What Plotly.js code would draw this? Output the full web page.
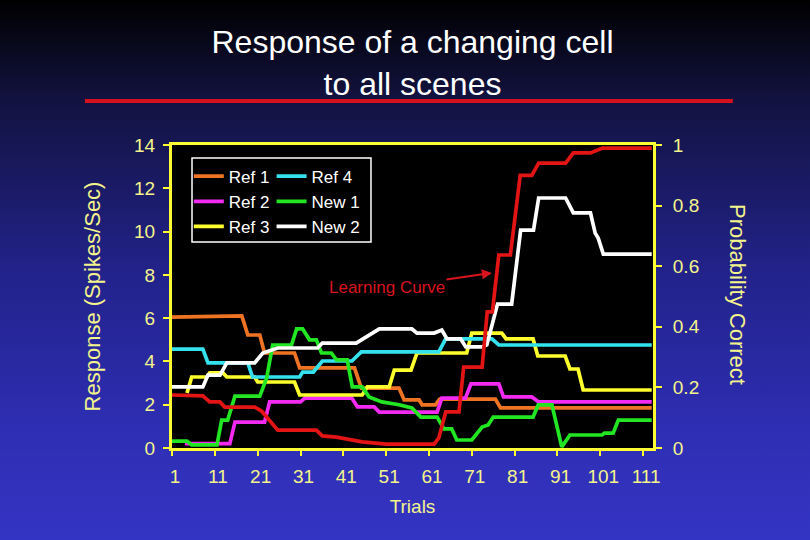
<!DOCTYPE html>
<html>
<head>
<meta charset="utf-8">
<script src="https://cdn.plot.ly/plotly-3.0.1.min.js"></script>
<style>
  html, body { margin: 0; padding: 0; }
  body { width: 810px; height: 540px; overflow: hidden;
         background: linear-gradient(to bottom, #000000 0%, #12123f 18%, #22228a 50%, #2e2eb4 80%, #3434c4 100%); }
  #chart { width: 810px; height: 540px; }
</style>
</head>
<body>
<div id="chart"></div>
<script>
// ---- data ----
const seriesNames = ["Ref 1", "Ref 2", "Ref 3", "Ref 4", "New 1", "New 2"];
const xTickVals = [1, 11, 21, 31, 41, 51, 61, 71, 81, 91, 101, 111];

const ref1X = [1, 17.3, 18.7, 21.5, 22.6, 29.6, 30.8, 43.6, 45.2, 54, 55.2, 58.7, 59.4, 62.5, 63.5, 76.5, 77.7, 113];
const ref1Y = [6.05, 6.1, 5.22, 5.22, 4.39, 4.39, 3.70, 3.70, 2.77, 2.77, 2.22, 2.22, 1.99, 1.99, 2.26, 2.26, 1.85, 1.85];

const ref2X = [4, 14.5, 15.7, 22.6, 23.8, 31, 32, 43, 44.3, 48.2, 49.4, 62.9, 64, 69.5, 70.8, 77.3, 78.4, 85, 86.6, 113];
const ref2Y = [0.2, 0.2, 1.2, 1.2, 2.13, 2.13, 2.3, 2.3, 1.9, 1.9, 1.66, 1.66, 2.3, 2.3, 2.96, 2.96, 2.36, 2.36, 2.13, 2.13];

const ref3X = [4.5, 5.6, 9.1, 9.8, 12.9, 13.8, 20.3, 21, 29.6, 30.8, 45.4, 46.6, 51.7, 52.9, 56.8, 58.2, 69.8, 71, 78, 79, 85.3, 86.4, 92.8, 93.9, 95.8, 97, 113];
const ref3Y = [2.54, 3.28, 3.28, 3.47, 3.47, 3.28, 3.28, 3.05, 3.05, 2.45, 2.45, 2.82, 2.82, 3.6, 3.6, 4.39, 4.39, 5.31, 5.31, 5.04, 5.04, 4.25, 4.25, 3.65, 3.65, 2.68, 2.68];

const ref4X = [1, 8.2, 9.4, 18.7, 19.8, 30.8, 31.5, 34, 36.1, 43, 45.2, 63.3, 64.9, 75.7, 77.3, 113];
const ref4Y = [4.57, 4.57, 3.93, 3.93, 3.28, 3.28, 3.51, 3.51, 4.02, 4.02, 4.44, 4.44, 5.04, 5.04, 4.76, 4.76];

const new1X = [1, 4.5, 5.6, 11.5, 12.6, 14, 15.7, 21.5, 23.1, 24.5, 28.9, 30.1, 31.5, 33.1, 34.7, 35.9, 38.2, 39.4, 41.9, 43.1, 45.4, 47, 50, 54, 57, 59.1, 62.9, 64.5, 66.3, 67.5, 71, 73.4, 74.8, 76, 85.3, 86.5, 89.7, 92, 93.9, 101.4, 102, 104, 105.2, 113];
const new1Y = [0.32, 0.32, 0.14, 0.14, 1.29, 1.29, 2.4, 2.4, 3.23, 4.76, 4.76, 5.5, 5.5, 5.0, 5.0, 4.39, 4.39, 4.07, 4.07, 2.82, 2.82, 2.36, 2.13, 2.0, 1.85, 1.43, 1.43, 0.88, 0.88, 0.37, 0.37, 0.97, 1.06, 1.43, 1.43, 1.99, 1.99, 0.05, 0.6, 0.6, 0.69, 0.69, 1.29, 1.29];

const new2X = [1, 8.2, 9.4, 12.2, 13.8, 20.3, 22.2, 25.7, 35, 36.1, 44, 45.5, 49.4, 57, 58.2, 62.2, 64, 65.2, 68.4, 69.6, 73.3, 74.5, 77, 80.3, 82.4, 85.4, 86.6, 92.9, 94.7, 98.7, 99.8, 100.5, 101.7, 113];
const new2Y = [2.82, 2.82, 3.37, 3.37, 3.93, 3.93, 4.39, 4.62, 4.62, 4.85, 4.85, 5.04, 5.5, 5.5, 5.31, 5.31, 5.45, 5.04, 5.04, 4.67, 4.67, 4.76, 6.65, 6.65, 10.07, 10.07, 11.55, 11.55, 10.86, 10.86, 9.93, 9.7, 8.96, 8.96];

const learnX = [1, 8.2, 9.8, 12.2, 13.3, 20.3, 21.9, 23.8, 25.7, 34.7, 36.1, 39.4, 45.4, 51, 62.2, 63.3, 64.9, 68, 69.1, 73.4, 74.6, 75.8, 77.3, 80, 82.3, 85, 86.6, 92.9, 94.7, 98.7, 101.5, 113];
const learnY = [0.175, 0.172, 0.152, 0.152, 0.135, 0.135, 0.122, 0.092, 0.059, 0.059, 0.04, 0.036, 0.02, 0.013, 0.013, 0.033, 0.119, 0.119, 0.267, 0.267, 0.449, 0.449, 0.637, 0.637, 0.90, 0.90, 0.94, 0.94, 0.974, 0.974, 0.99, 0.99];

// ---- styles ----
const FONT = '"Liberation Sans", Arial, sans-serif';
const AXIS_YELLOW = '#ffff33';
const LABEL_YELLOW = '#f4f48c';
const colors = ['#ee7424', '#f22af2', '#ffff2e', '#34e2ee', '#22e622', '#ffffff'];
const LW = 3.7;

function line(name, x, y, color, legend) {
  return { type: 'scatter', mode: 'lines', name: name, x: x, y: y,
           line: { color: color, width: LW, shape: 'linear' }, legend: legend,
           hoverinfo: 'skip' };
}

const traces = [
  line(seriesNames[0], ref1X, ref1Y, colors[0], 'legend'),
  line(seriesNames[1], ref2X, ref2Y, colors[1], 'legend'),
  line(seriesNames[2], ref3X, ref3Y, colors[2], 'legend'),
  line(seriesNames[3], ref4X, ref4Y, colors[3], 'legend2'),
  line(seriesNames[4], new1X, new1Y, colors[4], 'legend2'),
  line(seriesNames[5], new2X, new2Y, colors[5], 'legend2'),
  { type: 'scatter', mode: 'lines', name: 'Learning Curve', x: learnX, y: learnY,
    yaxis: 'y2', showlegend: false, hoverinfo: 'skip',
    line: { color: '#e21414', width: LW } }
];

const legendCommon = {
  font: { family: FONT, size: 17, color: '#ffffff' },
  bgcolor: 'rgba(0,0,0,0)', borderwidth: 0,
  xref: 'paper', yref: 'paper', xanchor: 'left', yanchor: 'top',
  tracegroupgap: 0, itemwidth: 30
};

const layout = {
  width: 810, height: 540,
  paper_bgcolor: 'rgba(0,0,0,0)',
  plot_bgcolor: '#000000',
  margin: { l: 172, r: 157, t: 145, b: 92, pad: 0 },
  font: { family: FONT, color: LABEL_YELLOW },
  title: {
    text: 'Response of a changing cell<br>to all scenes',
    font: { family: FONT, size: 32, color: '#ffffff' },
    x: 0.5, xref: 'paper', xanchor: 'center',
    y: 1 - 53 / 540, yref: 'container', yanchor: 'middle'
  },
  xaxis: {
    range: [1, 113.3],
    tickmode: 'array', tickvals: xTickVals, ticktext: xTickVals.map(String),
    ticks: 'outside', ticklen: 5, tickwidth: 2, tickcolor: AXIS_YELLOW,
    ticklabelstandoff: 4, ticklabelshift: 3,
    tickfont: { family: FONT, size: 19, color: LABEL_YELLOW },
    showline: true, linecolor: AXIS_YELLOW, linewidth: 3, mirror: true,
    showgrid: false, zeroline: false,
    title: { text: 'Trials', font: { family: FONT, size: 19, color: LABEL_YELLOW }, standoff: 14 }
  },
  yaxis: {
    range: [0, 14], dtick: 2, tick0: 0,
    ticks: 'outside', ticklen: 6, tickwidth: 2, tickcolor: AXIS_YELLOW,
    ticklabelstandoff: 4,
    tickfont: { family: FONT, size: 19, color: LABEL_YELLOW },
    showline: true, linecolor: AXIS_YELLOW, linewidth: 3,
    showgrid: false, zeroline: false,
    title: { text: 'Response (Spikes/Sec)', font: { family: FONT, size: 22, color: LABEL_YELLOW }, standoff: 28 }
  },
  yaxis2: {
    range: [0, 1], dtick: 0.2, tick0: 0,
    overlaying: 'y', side: 'right',
    ticks: 'outside', ticklen: 6, tickwidth: 2, tickcolor: AXIS_YELLOW,
    ticklabelstandoff: 7,
    tickfont: { family: FONT, size: 19, color: LABEL_YELLOW },
    showline: true, linecolor: AXIS_YELLOW, linewidth: 3,
    showgrid: false, zeroline: false
  },
  legend: Object.assign({}, legendCommon, { x: 0.035, y: 0.955 }),
  legend2: Object.assign({}, legendCommon, { x: 0.207, y: 0.955 }),
  shapes: [
    { type: 'rect', xref: 'paper', yref: 'paper', x0: 0.0416, x1: 0.4137, y0: 0.680, y1: 0.957,
      line: { color: '#ffffff', width: 1.5 }, fillcolor: 'rgba(0,0,0,0)' },
    { type: 'line', xref: 'paper', yref: 'paper', x0: -0.181, x1: 1.166, y0: 1.145, y1: 1.145,
      line: { color: '#d4111e', width: 4 } }
  ],
  annotations: [
    { text: 'Learning Curve', x: 75.7, y: 8.09, xref: 'x', yref: 'y',
      showarrow: true, ax: -105, ay: 15, arrowhead: 2, arrowsize: 1, arrowwidth: 2,
      arrowcolor: '#d8141e', font: { family: FONT, size: 17, color: '#d8141e' } },
    { text: 'Probability Correct', xref: 'paper', yref: 'paper', x: 1.1746, y: 0.505,
      xanchor: 'center', yanchor: 'middle', textangle: 90, showarrow: false,
      font: { family: FONT, size: 22, color: LABEL_YELLOW } }
  ],
  showlegend: true
};

Plotly.newPlot('chart', traces, layout, { displayModeBar: false, staticPlot: true });
</script>
</body>
</html>
